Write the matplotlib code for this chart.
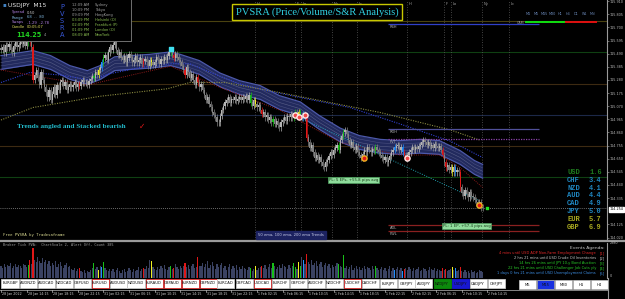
import matplotlib
matplotlib.use("Agg")
import matplotlib.pyplot as plt
import matplotlib.transforms as mtransforms
from matplotlib.patches import Rectangle
from matplotlib.lines import Line2D
import numpy as np

# ---- data -------------------------------------------------------------
# M15 closes, in pips above 114.000
close_pips = [
    152, 154, 150, 156, 154, 157, 152, 150, 155, 158, 154, 156, 158,
    157, 160, 155, 158, 162, 158, 154,
    128,
    132, 136, 130, 124, 134, 128, 122,
    118, 114, 120, 112, 117, 122, 116, 124, 120, 126,
    128, 123, 126, 120, 122, 125, 122, 124, 126, 122, 125, 123, 126,
    128, 126, 126, 124, 127, 129,
    131, 130, 134, 132, 136, 138,
    142, 146, 148, 144, 150, 154, 152, 156, 158,
    152, 148, 150, 146, 144, 147, 142, 146, 149,
    146, 142, 144, 147, 142, 144, 146, 141, 143, 145, 142, 139, 144, 142, 140,
    142, 146, 144, 141, 145, 143, 146, 144, 147, 150,
    152, 148, 146, 149, 146,
    144, 142, 139, 136, 132, 138, 134, 130,
    133, 128, 124, 130, 126, 122, 125,
    120, 116, 112, 114, 109, 106, 102, 100, 98, 94,
    94, 99, 104, 107, 110,
    112, 114, 110, 113, 112, 114, 111, 113, 114, 112, 114, 113,
    115, 112, 116, 110, 107, 112, 109, 106, 108, 104,
    101, 102, 98, 100, 96, 98, 94, 97, 93, 95, 92, 90, 94,
    96, 98, 95, 99, 98, 101, 98, 100, 102, 99,
    102, 100, 98, 101, 98,
    82,
    78, 74, 76, 70, 66, 68, 64, 66, 62, 59,
    58, 62, 64, 67, 70, 68, 72,
    74, 76, 72, 80, 83, 86, 88,
    85, 80, 76, 78, 74, 72, 75, 70, 68, 66,
    69, 72, 70, 74, 72, 70, 73, 71,
    74, 72, 70, 68, 66, 64, 66, 62, 64,
    67, 70, 72, 74, 75, 76, 72, 74, 70, 68,
    66, 68, 70, 72, 74, 72, 74, 73, 75, 76,
    78, 80, 78, 76, 78, 75,
    76, 74, 77, 75, 74, 75, 72,
    68, 62, 58, 60, 56, 58, 54,
    58, 54, 56, 54, 42,
    38, 35, 40, 37, 34, 38, 35, 34,
    32, 30, 28, 30, 26, 25.4,
]

volume = [
    1020, 850, 1190, 940, 1100, 1020, 1280, 850, 1020, 1190, 940, 1100, 1020, 850, 1190, 1100, 940,
    1100, 1530, 1190, 2460,
    1530, 1360, 1700, 1450, 1280, 1620, 1360, 1530, 1190, 1450,
    1020, 1280, 1100, 1450, 940, 1190, 1360, 1020, 850, 1100, 1280, 940, 1020,
    770, 680, 850, 600, 770, 850, 600, 510, 680, 430, 600, 510,
    680, 850, 1280, 770, 940, 680, 1020, 940, 1360, 850, 680, 600, 770,
    600, 770, 510, 680, 850, 600, 430, 680, 770, 510, 600, 850, 680, 510, 770, 600, 680, 940, 600, 770, 850,
    770, 1020, 850, 1530, 1450, 940, 770,
    680, 940, 770, 1020, 850, 1100, 770, 680, 940, 1020, 770, 850, 1190, 940, 770, 1020,
    850, 1020, 1280, 940, 1100, 770, 1020, 1190, 850, 940, 1700, 1020,
    1020, 1280, 940, 1190, 1450, 850, 1100, 1360, 1020, 770, 1190, 940, 1100, 1280,
    850, 1020, 680, 940, 1190, 770, 1020, 850, 1100, 680, 940, 770, 1020, 850,
    770, 680, 940, 850, 600, 770, 1020, 680, 850, 940,
    1020, 850, 1100, 770, 940, 1190, 850, 1280, 1020, 770, 940, 1100, 850, 1190, 1020,
    940, 770, 1100, 850, 1020, 1280, 940, 770, 1360, 1020,
    1700, 1530, 1190,
    1960,
    1360, 1190, 1530, 1100, 1280, 1450, 1020, 1190, 1360, 940, 1100, 1280, 1020, 1190, 850, 1100, 940, 1020, 1280,
    1190, 1020, 940, 1870,
    850, 1020, 770, 940, 1100, 680, 850, 1020, 770, 940, 680, 850, 1020, 770, 940, 850, 680, 1020, 770, 1020, 850, 680,
    770, 940, 680, 850, 600, 770, 1020, 600, 850, 680, 770, 940, 680, 850, 600, 770, 850, 680, 940, 770,
    600, 850, 680, 770, 940, 600, 680, 850, 770, 600, 680, 940, 770, 680, 850, 600, 770, 680, 600,
    850, 680, 770, 600, 680, 770, 940, 680, 850, 600, 680, 940, 600, 510, 680,
    510, 600, 430, 680, 510, 600, 430, 510, 680, 600, 510,
]

# PVSRA vector candles (bar index)
red_bars = [18, 20, 49, 89, 108, 115, 123, 163, 191, 252, 276, 278, 287]
green_bars = [17, 58, 64, 106, 156, 170, 183, 184, 187, 211, 214, 234]
yellow_bars = [61, 94, 159, 186, 282]
blue_bars = [63, 189, 246, 251, 284]

# moving averages read at a few bars (bar index, pips above 114)
band_bar = [0, 20, 31, 43, 54, 62, 71, 81, 93, 106, 112, 124, 137, 149, 162, 174,
            187, 199, 212, 224, 237, 249, 262, 274, 287, 296, 301]
band_mid = [142, 146, 142, 134, 130, 134, 141, 142, 143, 145, 143, 138, 128, 122, 118, 110,
            105, 94, 84, 78, 75, 74, 75, 74, 66, 58, 55]
ema100_bar = [0, 18, 37, 56, 68, 87, 106, 118, 131, 149, 168, 187, 218, 249, 281, 301]
ema100 = [126, 134, 132, 128, 133, 138, 141, 141, 134, 125, 119, 114, 106, 93, 79, 66]
ema200_bar = [0, 20, 62, 104, 118, 140, 174, 237, 281, 299]
ema200 = [96, 106, 115, 121, 126, 126, 118, 102, 88, 80]
ema20_bar = [0, 54, 106, 137, 174, 212, 249, 274, 287, 301]
ema20 = [136, 124, 139, 122, 104, 78, 68, 68, 58, 42]
trend_bar = [190, 298]
trend = [96, 32]

ring_bar = [184, 186, 190, 254]
ring_pips = [100, 98, 100, 66]
dot_bar = [227, 299]
dot_pips = [66, 28]

round_levels = [115.75, 115.50, 115.25, 115.00, 114.75, 114.50]
round_colors = ["#4a4210", "#0f4012", "#3d2a12", "#1c2848", "#3d2a12", "#0f4012"]

pivot_names = ["R4H", "RDH", "PVT", "ADL", "PWL"]
pivot_levels = [115.728, 114.888, 114.808, 114.120, 114.072]
pivot_colors = ["#3040c8", "#50509a", "#8a40a8", "#8a2020", "#8a2020"]

session_bars = [159, 184, 187.5, 207, 222.5, 254, 277, 281, 300.5, 317.5]
session_names = ["H", "F", "Lo", "Ny", "Lc", "H", "F", "Lo", "Ny", "Lc"]

price_ticks = ["115.910", "115.805", "115.700", "115.595", "115.490", "115.385", "115.280",
               "115.175", "115.070", "114.965", "114.860", "114.755", "114.650", "114.545",
               "114.440", "114.335", "114.125", "114.020"]

time_labels = ["28 Jan 2022", "28 Jan 14:15", "28 Jan 18:15", "28 Jan 22:15", "31 Jan 02:15",
               "31 Jan 06:15", "31 Jan 10:15", "31 Jan 14:15", "31 Jan 18:15", "31 Jan 22:15",
               "1 Feb 02:15", "1 Feb 06:15", "1 Feb 10:15", "1 Feb 14:15", "1 Feb 18:15",
               "1 Feb 22:15", "2 Feb 02:15", "2 Feb 06:15", "2 Feb 10:15", "2 Feb 14:15"]

currencies = ["USD", "CHF", "NZD", "AUD", "CAD", "JPY", "EUR", "GBP"]
strength = [1.6, 3.4, 4.1, 4.4, 4.9, 5.0, 5.7, 6.9]
strength_colors = ["#1e7a1e", "#1f86c0", "#1f86c0", "#1f86c0", "#1f86c0", "#1f86c0", "#a8a820", "#a8a820"]

pairs = ["EURGBP", "AUDNZD", "AUDCAD", "NZDCAD", "GBPUSD", "EURUSD", "AUDUSD", "NZDUSD",
         "EURAUD", "GBPAUD", "EURNZD", "GBPNZD", "EURCAD", "GBPCAD", "USDCAD", "EURCHF",
         "GBPCHF", "AUDCHF", "NZDCHF", "USDCHF", "CADCHF", "EURJPY", "GBPJPY", "AUDJPY",
         "NZDJPY", "USDJPY", "CADJPY", "CHFJPY"]
pairs_alert = ["EURUSD", "EURAUD", "GBPAUD", "EURNZD", "GBPNZD", "USDCAD", "USDCHF"]
timeframes = ["M5", "M15", "M30", "H1", "H4"]
tf_states = ["M1", "M5", "M15", "M30", "H1", "H4", "D1", "W1", "MN"]
tf_bull = [True, True, True, True, True, False, False, False, False]

events = ["4 mins until USD ADP Non-Farm Employment Change",
          "2 hrs 21 mins until USD Crude Oil Inventories",
          "14 hrs 26 mins until JPY 10-y Bond Auction",
          "22 hrs 21 mins until USD Challenger Job Cuts y/y",
          "1 days 0 hrs 21 mins until USD Unemployment Claims"]
event_colors = ["#e02828", "#c8c8c8", "#28c828", "#28c828", "#3c8ce0"]

sessions = ["Sydney", "Tokyo", "HongKong", "Helsinki (O)", "Frankfurt (P)", "London (O)", "NewYork"]
session_times = ["12:09 AM", "10:09 PM", "09:09 PM", "03:09 PM", "02:09 PM", "01:09 PM", "08:09 AM"]
session_colors = ["#a0a0a0", "#a0a0a0", "#a0a0a0", "#8cc050", "#8cc050", "#8cc050", "#8cc050"]

# ---- figure -----------------------------------------------------------
W, H = 625, 299
fig = plt.figure(figsize=(6.25, 2.99), dpi=100, facecolor="black")


def fx(px):
    return px / W


def fy(py):
    return 1 - py / H


def ftext(x, y, s, **kw):
    kw.setdefault("va", "center")
    kw.setdefault("transform", fig.transFigure)
    return fig.text(fx(x), fy(y), s, **kw)


def fline(xs, ys, **kw):
    fig.add_artist(Line2D([fx(v) for v in xs], [fy(v) for v in ys],
                          transform=fig.transFigure, **kw))


XLIM = (-0.625, 378.75)
ax = fig.add_axes([0, fy(240), fx(607), 240 / H], facecolor="black")
ax.set_xlim(*XLIM)
ax.set_ylim(114.0, 115.92)

closes = 114.0 + np.array(close_pips) / 100
n = len(closes)
bars = np.arange(n)
opens = np.concatenate([[closes[0] + 0.02], closes[:-1]])
highs = np.maximum(opens, closes) + 0.025
lows = np.minimum(opens, closes) - 0.025

colors = np.where(closes >= opens, "#b4b4b4", "#828282").astype(object)
for idx in red_bars:
    colors[idx] = "#e01818"
for idx in green_bars:
    colors[idx] = "#18c018"
for idx in yellow_bars:
    colors[idx] = "#f0f020"
for idx in blue_bars:
    colors[idx] = "#2090ff"

# round number levels and current price
for lvl, c in zip(round_levels, round_colors):
    ax.axhline(lvl, color=c, lw=0.8, zorder=1)
ax.axhline(closes[-1], color="#909090", lw=0.6, ls=(0, (1, 1.5)), zorder=1)

for b in session_bars:
    ax.axvline(b, color="#5a5a5a", lw=0.6, ls=(0, (1, 2)), zorder=1)

# EMA ribbon
mid = 114.0 + np.array(band_mid) / 100
ax.fill_between(band_bar, mid - 0.055, mid + 0.055, color="#222a5e", lw=0, zorder=2)
for off, c, lw in [(0.055, "#4d59aa", 0.9), (-0.055, "#4d59aa", 0.9),
                   (0.027, "#4a5080", 0.4), (-0.027, "#4a5080", 0.4), (0.0, "#5a6088", 0.4)]:
    ax.plot(band_bar, mid + off, color=c, lw=lw, zorder=2)

ax.plot(ema100_bar, 114.0 + np.array(ema100) / 100, color="#3040d0", lw=0.8, ls=(0, (1, 1.2)), zorder=2)
ax.plot(ema200_bar, 114.0 + np.array(ema200) / 100, color="#8a8a40", lw=0.8, ls=(0, (1, 1.2)), zorder=2)
ax.plot(ema20_bar, 114.0 + np.array(ema20) / 100, color="#8a1a1a", lw=0.7, ls=(0, (1, 1.2)), zorder=2)
ax.plot(trend_bar, 114.0 + np.array(trend) / 100, color="#20a0b0", lw=0.7, ls=(0, (1, 1.5)), zorder=2)

# pivots
for name, lvl, c in zip(pivot_names, pivot_levels, pivot_colors):
    ls = (0, (1, 1)) if name == "PVT" else "-"
    ax.hlines(lvl, 242, 336, color=c, lw=0.9, ls=ls, zorder=2)
    ax.text(243, lvl - 0.012, name, color="#b0b0b0", fontsize=2.6, va="top", ha="left", zorder=5)

# candles
ax.vlines(bars, lows, highs, colors=list(colors), lw=0.5, zorder=3)
ax.bar(bars, np.maximum(np.abs(closes - opens), 0.004), bottom=np.minimum(opens, closes),
       width=0.65, color=list(colors), lw=0, zorder=3)

# signal markers
ax.scatter(ring_bar, 114.0 + np.array(ring_pips) / 100, s=14, facecolor="#f04848",
           edgecolor="#ffe8e8", lw=1.0, zorder=4)
ax.scatter(dot_bar, 114.0 + np.array(dot_pips) / 100, s=14, facecolor="#e01818",
           edgecolor="#f0b020", lw=1.0, zorder=4)
ax.scatter([106], [115.53], s=10, marker="s", color="#40e0f0", zorder=4)
ax.scatter([304], [114.254], s=4, marker="s", color="#20e020", zorder=4)

# P/L boxes
pl_box = dict(boxstyle="square,pad=0.25", facecolor="#8fdc9c", edgecolor="#50a060", lw=0.5)
ax.text(205, 114.48, "PL: 5 EPs, +55.8 pips avg", fontsize=2.8, color="#1a3a1a",
        va="center", ha="left", bbox=pl_box, zorder=5)
ax.text(276, 114.11, "PL: 1 EP, +57.4 pips avg", fontsize=2.8, color="#1a3a1a",
        va="center", ha="left", bbox=pl_box, zorder=5)

ax.set_xticks([])
ax.set_yticks([float(t) for t in price_ticks])
ax.set_yticklabels(price_ticks)
ax.yaxis.tick_right()
ax.tick_params(axis="y", labelsize=2.4, colors="#b8b8b8", length=1.5, width=0.4, pad=0.6)
for side in ["top", "left", "bottom"]:
    ax.spines[side].set_visible(False)
ax.spines["right"].set_color("#9a9a9a")
ax.spines["right"].set_linewidth(0.8)

# session labels at top
strans = mtransforms.blended_transform_factory(ax.transData, fig.transFigure)
for b, name in zip(session_bars, session_names):
    fig.text(b + 1, fy(4), name, transform=strans, fontsize=2.6, color="#a0a0a0", va="center")

# ---- volume panel -----------------------------------------------------
vax = fig.add_axes([0, fy(278), fx(607), 35 / H], facecolor="black")
vax.set_xlim(*XLIM)
vax.set_ylim(0, 2900)
vcol = np.array(["#3a4262"] * n, dtype=object)
for idx in red_bars:
    vcol[idx] = "#e01818"
for idx in green_bars:
    vcol[idx] = "#18c018"
for idx in yellow_bars:
    vcol[idx] = "#f0f020"
for idx in blue_bars:
    vcol[idx] = "#2090ff"
vax.bar(bars, volume, width=0.8, color=list(vcol), lw=0)
vax.set_xticks([])
vax.set_yticks([])
for side in ["top", "left", "bottom"]:
    vax.spines[side].set_visible(False)
vax.spines["right"].set_color("#9a9a9a")
vax.spines["right"].set_linewidth(0.8)

# separators
fline([0, 625], [240.5, 240.5], color="#9a9a9a", lw=1.6)
fline([607.5, 607.5], [278, 299], color="#9a9a9a", lw=0.8)
fline([0, 607.5], [289.5, 289.5], color="#9a9a9a", lw=0.6)

# time axis
for k, lab in enumerate(time_labels):
    b = 16 * k
    fig.add_artist(Line2D([b, b], [fy(289.5), fy(291.5)], transform=strans, color="#c0c0c0", lw=0.5))
    fig.text(b + 0.6, fy(294), lab, transform=strans, fontsize=2.3, color="#d0d0d0", va="center")

# pair buttons
for k, p in enumerate(pairs):
    x0 = 1.5 + 18 * k
    fc, ec = "white", "#c8c8c8"
    if p in pairs_alert:
        ec = "#e03030"
    if p == "NZDJPY":
        fc, ec = "#0c8a0c", "#0c8a0c"
    if p == "USDJPY":
        fc, ec = "#1818d0", "#1818d0"
    fig.add_artist(Rectangle((fx(x0), fy(288)), fx(17), 9 / H, transform=fig.transFigure,
                             facecolor=fc, edgecolor=ec, lw=0.6))
    ftext(x0 + 8.5, 283.5, p, fontsize=2.7, color="#101010", ha="center")

for k, t in enumerate(timeframes):
    x0 = 519 + 18 * k
    fc = "#1830e0" if t == "M15" else "white"
    fig.add_artist(Rectangle((fx(x0), fy(289)), fx(17), 9 / H, transform=fig.transFigure,
                             facecolor=fc, edgecolor="#c8c8c8", lw=0.5))
    ftext(x0 + 8.5, 284.5, t, fontsize=2.7, color="#101010", ha="center")

# lower panel texts
ftext(3, 235, "Free PVSRA by Tradesafname", fontsize=2.8, color="#d8d890", family="DejaVu Sans Mono")
ftext(291, 235, "50 ema, 100 ema, 200 ema Trends", fontsize=2.7, color="#c8cce8", ha="center",
      bbox=dict(boxstyle="square,pad=0.5", facecolor="#1c2260", edgecolor="#1c2260"))
ftext(3, 244.5, "Broker Tick PVA:  ChartScale 2, Alert Off, Count 385", fontsize=2.5,
      color="#a0a0a0", family="DejaVu Sans Mono")
ftext(605, 247.5, "Events Agenda:", fontsize=3.2, color="#c8c8c8", ha="right")
for k, (ev, c) in enumerate(zip(events, event_colors)):
    ftext(596, 253 + 5 * k, ev, fontsize=2.6, color=c, ha="right")
    ftext(600, 253 + 5 * k, "[%d]" % (k + 1), fontsize=2.6, color=c, ha="left")
ftext(610, 243, "2880", fontsize=2.4, color="#b8b8b8")
ftext(610, 276, "0", fontsize=2.4, color="#b8b8b8")

# current price tag
ftext(609.5, 209.5, "114.254", fontsize=2.4, color="black",
      bbox=dict(boxstyle="square,pad=0.25", facecolor="white", edgecolor="white"))

# currency strength
for k, (cur, val, c) in enumerate(zip(currencies, strength, strength_colors)):
    yy = 172.5 + 7.8 * k
    ftext(567, yy, cur, fontsize=5, color=c, family="Liberation Mono", fontweight="bold")
    ftext(589, yy, "%.1f" % val, fontsize=5, color=c, family="Liberation Mono", fontweight="bold")

# timeframe trend dashes
for k, (t, bull) in enumerate(zip(tf_states, tf_bull)):
    xc = 528.5 + 8 * k
    fline([xc - 3, xc + 3], [22, 22], color="#10e010" if bull else "#e01010", lw=1.4)
    ftext(xc, 14, t, fontsize=2.4, color="#6a88b8", ha="center")
ftext(517, 23, "CAM", fontsize=2.4, color="#a0a0a0")

# chart text
ftext(17, 127, "Trends angled and Stacked bearish", fontsize=5.2, color="#22b8c8",
      family="Liberation Serif", fontweight="bold")
ftext(139, 126, "\u2713", fontsize=5.5, color="#e01818", family=["DejaVu Sans"])

ftext(317, 12, "PVSRA (Price/Volume/S&R Analysis)", fontsize=7.6, color="#30d0e0",
      family="Liberation Serif", ha="center",
      bbox=dict(boxstyle="square,pad=0.35", facecolor="black", edgecolor="#c8c800", lw=1.0))

# info panel
fig.add_artist(Rectangle((fx(-1), fy(41)), fx(132), 42 / H, transform=fig.transFigure,
                         facecolor="black", edgecolor="#808080", lw=0.6))
ftext(3, 5, "\u25aa", fontsize=4, color="#4080c0")
ftext(8, 5, "USDJPY  M15", fontsize=4.3, color="#e8e8e8")
ftext(12, 12.5, "Spread", fontsize=2.7, color="#b080e0")
ftext(27, 12.5, "0.50", fontsize=2.7, color="#c8c8c8")
ftext(12, 17.5, "Range", fontsize=2.7, color="#80b8e0")
ftext(27, 17.5, "68  ..  80", fontsize=2.7, color="#80b8e0")
ftext(12, 22.5, "Swaps", fontsize=2.7, color="#b080e0")
ftext(27, 22.5, "-1.29  -2.78", fontsize=2.7, color="#b080e0")
ftext(12, 27.5, "Candle", fontsize=2.7, color="#e0e060")
ftext(27, 27.5, "00:05:07", fontsize=2.7, color="#e0e060")
ftext(16, 35, "114.25", fontsize=4.7, color="#20d020", fontweight="bold")
ftext(43.5, 35.5, "4", fontsize=2.6, color="#a0a0a0")
for k, ch in enumerate("PVSRA"):
    ftext(62, 7 + 7 * k, ch, fontsize=4.8, color="#3858d8", ha="center")
for k, (t, s, c) in enumerate(zip(session_times, sessions, session_colors)):
    ftext(72, 5 + 5 * k, t, fontsize=2.6, color=c)
    ftext(95, 5 + 5 * k, s, fontsize=2.6, color=c)

fig.savefig("out.png", dpi=100, facecolor="black")
